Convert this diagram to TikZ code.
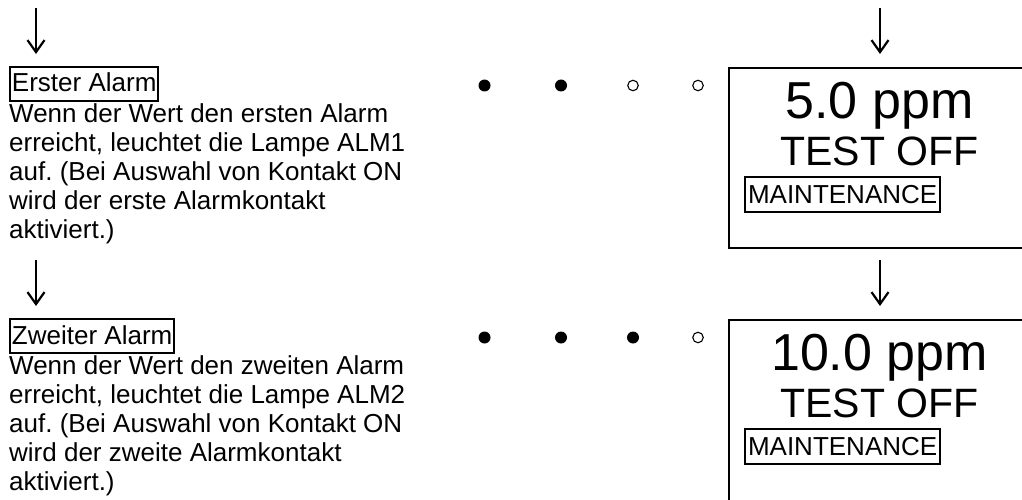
\documentclass[tikz,border=0pt]{standalone}
\usepackage{fontspec}
\setmainfont{Liberation Sans}
\usetikzlibrary{arrows.meta}
\tikzset{
  arr/.style={line width=2.2pt, -{Straight Barb[length=12pt,width=17pt,line width=2.2pt]}},
  titlebox/.style={draw, line width=2pt, inner xsep=2pt, inner ysep=2pt, text height=23pt, text depth=7pt, anchor=base west, font=\fontsize{26}{29}\selectfont},
  para/.style={inner sep=0pt, anchor=base west, align=flush left, text width=420pt, font=\fontsize{26}{29.1}\selectfont\frenchspacing},
  disp/.style={draw, line width=2.2pt},
  big/.style={anchor=base, inner sep=0pt, font=\fontsize{52}{60}\selectfont},
  mid/.style={anchor=base, inner sep=0pt, font=\fontsize{41}{48}\selectfont},
  mbox/.style={draw, line width=2pt, inner xsep=3pt, inner ysep=2pt, text height=24pt, text depth=7pt, anchor=base west, font=\fontsize{26}{29}\selectfont},
  fdot/.style={circle, fill=black, inner sep=0pt, minimum size=12pt},
  odot/.style={circle, draw=black, line width=1.1pt, inner sep=0pt, minimum size=10.5pt},
}
\begin{document}
\begin{tikzpicture}[x=1pt,y=-1pt]
\useasboundingbox (0,0) rectangle (1022,500);
\clip (0,0) rectangle (1022,500);
% arrows
\coordinate (la1s) at (36,8);  \coordinate (la1e) at (36,54);
\coordinate (la2s) at (36,260); \coordinate (la2e) at (36,306);
\coordinate (ra1s) at (880,8);  \coordinate (ra1e) at (880,54);
\coordinate (ra2s) at (880,260); \coordinate (ra2e) at (880,306);
\draw[arr] (la1s) -- (la1e);
\draw[arr] (la2s) -- (la2e);
\draw[arr] (ra1s) -- (ra1e);
\draw[arr] (ra2s) -- (ra2e);
% left texts
\node[titlebox] (t1) at (9,92) {Erster Alarm};
\node[para] (p1) at (9,122) {Wenn der Wert den ersten Alarm\\erreicht, leuchtet die Lampe ALM1\\auf. (Bei Auswahl von Kontakt ON\\wird der erste Alarmkontakt\\aktiviert.)};
\node[titlebox] (t2) at (9,344) {Zweiter Alarm};
\node[para] (p2) at (9,374) {Wenn der Wert den zweiten Alarm\\erreicht, leuchtet die Lampe ALM2\\auf. (Bei Auswahl von Kontakt ON\\wird der zweite Alarmkontakt\\aktiviert.)};
% dots
\node[fdot] (d11) at (484.5,85.5) {};
\node[fdot] (d12) at (561,85.5) {};
\node[odot] (d13) at (633,85.5) {};
\node[odot] (d14) at (698,85.5) {};
\node[fdot] (d21) at (484.5,337.5) {};
\node[fdot] (d22) at (561,337.5) {};
\node[fdot] (d23) at (633,337.5) {};
\node[odot] (d24) at (698,337.5) {};
% displays
\draw[disp] (729,68) rectangle (1031,248);
\node[big] (v1) at (879.5,118) {5.0 ppm};
\node[mid] (s1) at (879.5,165) {TEST OFF};
\node[mbox] (m1) at (744,203) {MAINTENANCE};
\draw[disp] (729,320) rectangle (1031,510);
\node[big] (v2) at (879.5,370) {10.0 ppm};
\node[mid] (s2) at (879.5,417) {TEST OFF};
\node[mbox] (m2) at (744,455) {MAINTENANCE};
\end{tikzpicture}
\end{document}
